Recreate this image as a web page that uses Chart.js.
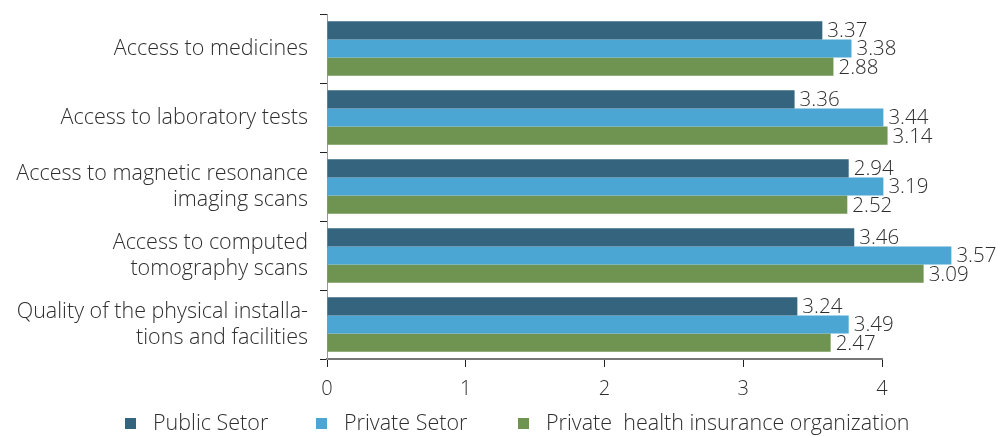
<!DOCTYPE html>
<html>
<head>
<meta charset="utf-8">
<script src="https://cdn.jsdelivr.net/npm/chart.js@4/dist/chart.umd.min.js"></script>
<style>
  html, body { margin: 0; padding: 0; background: #fff; }
  #wrap { width: 998px; height: 437px; position: relative; }
</style>
</head>
<body>
<div id="wrap"><canvas id="chart"></canvas></div>
<script>
// categories (multi-line labels as in the picture)
const categories = [
  ["Access to medicines"],
  ["Access to laboratory tests"],
  ["Access to magnetic resonance", "imaging scans"],
  ["Access to computed", "tomography scans"],
  ["Quality of the physical installa-", "tions and facilities"]
];

const seriesNames = ["Public Setor", "Private Setor", "Private  health insurance organization"];
const seriesColors = ["#35647e", "#4ba6d3", "#6f9452"];

// bar lengths as drawn in the reference (measured on the 0-4 axis)
const publicBars = [3.57, 3.37, 3.76, 3.80, 3.39];
const privateBars = [3.78, 4.01, 4.01, 4.50, 3.76];
const insuranceBars = [3.65, 4.04, 3.75, 4.30, 3.63];

// value labels printed next to the bars
const publicLabels = ["3.37", "3.36", "2.94", "3.46", "3.24"];
const privateLabels = ["3.38", "3.44", "3.19", "3.57", "3.49"];
const insuranceLabels = ["2.88", "3.14", "2.52", "3.09", "2.47"];

const xTicks = [0, 1, 2, 3, 4];

const FONT = "'Open Sans', 'Noto Sans', sans-serif";
const TEXT = "#2e2e2e";

const barLabelPlugin = {
  id: "barLabels",
  afterDatasetsDraw(chart) {
    const ctx = chart.ctx;
    ctx.save();
    ctx.font = "300 20.5px " + FONT;
    ctx.fillStyle = TEXT;
    ctx.textAlign = "left";
    ctx.textBaseline = "middle";
    chart.data.datasets.forEach((ds, i) => {
      const meta = chart.getDatasetMeta(i);
      meta.data.forEach((bar, j) => {
        ctx.fillText(ds.valueLabels[j], bar.x + 5, bar.y + 1);
      });
    });
    ctx.restore();
  }
};

// legend drawn at the bottom like in the reference
const legendPlugin = {
  id: "bottomLegend",
  afterDraw(chart) {
    const ctx = chart.ctx;
    const starts = [125, 316, 518];
    const y = 424;
    ctx.save();
    ctx.font = "300 21.5px " + FONT;
    ctx.textBaseline = "middle";
    ctx.textAlign = "left";
    chart.data.datasets.forEach((ds, i) => {
      ctx.fillStyle = ds.backgroundColor;
      ctx.fillRect(starts[i], y - 6, 11, 11);
      ctx.fillStyle = TEXT;
      ctx.fillText(ds.label, starts[i] + 28, y);
    });
    ctx.restore();
  }
};

const allBars = [publicBars, privateBars, insuranceBars];
const allLabels = [publicLabels, privateLabels, insuranceLabels];

new Chart(document.getElementById("chart"), {
  type: "bar",
  data: {
    labels: categories,
    datasets: seriesNames.map((name, i) => ({
      label: name,
      data: allBars[i],
      valueLabels: allLabels[i],
      backgroundColor: seriesColors[i],
      borderWidth: 0,
      barPercentage: 1,
      categoryPercentage: 0.79,
      clip: false
    }))
  },
  options: {
    indexAxis: "y",
    responsive: true,
    maintainAspectRatio: false,
    animation: false,
    layout: { padding: { left: 0, right: 116, top: 14, bottom: 26 } },
    plugins: {
      legend: { display: false },
      tooltip: { enabled: false }
    },
    scales: {
      x: {
        min: 0,
        max: 4,
        afterBuildTicks: (scale) => { scale.ticks = xTicks.map(v => ({ value: v })); },
        grid: { drawOnChartArea: false, tickLength: 8, color: "#222", lineWidth: 1 },
        border: { color: "#777", width: 2 },
        ticks: { font: { family: FONT, size: 20, weight: 300 }, color: TEXT, padding: 10 }
      },
      y: {
        afterFit: (scale) => {
          scale.width = 327;
          scale.paddingTop = 0;
          scale.paddingBottom = 0;
        },
        grid: { drawOnChartArea: false, tickLength: 7, color: "#222", lineWidth: 1, offset: true },
        border: { color: "#999", width: 1 },
        ticks: { font: { family: FONT, size: 21.5, weight: 300, lineHeight: 1.22 }, color: TEXT, padding: 12 }
      }
    }
  },
  plugins: [barLabelPlugin, legendPlugin]
});
</script>
</body>
</html>
